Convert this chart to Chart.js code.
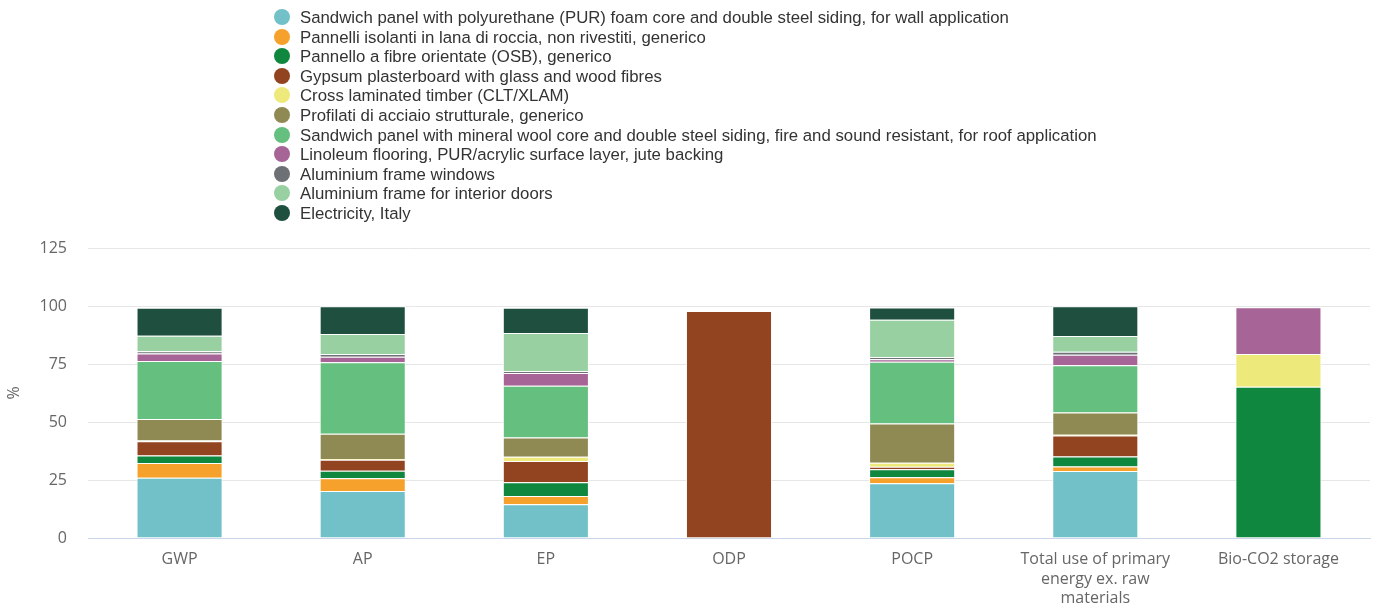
<!DOCTYPE html>
<html>
<head>
<meta charset="utf-8">
<script src="https://cdn.jsdelivr.net/npm/chart.js@4"></script>
<style>
  html, body { margin: 0; padding: 0; background: #fff; }
  #wrap { position: relative; width: 1376px; height: 609px; }
  #legend { position: absolute; left: 274px; top: 8px; font-family: "Liberation Sans", Arial, sans-serif; font-size: 16.8px; color: #333; }
  #legend div { height: 19.6px; line-height: 19.6px; white-space: nowrap; }
  #legend span.dot { display: inline-block; width: 16px; height: 16px; border-radius: 50%; vertical-align: -2px; margin-right: 10px; }
</style>
</head>
<body>
<div id="wrap">
  <canvas id="chart" width="1376" height="609"></canvas>
  <div id="legend"></div>
</div>
<script>
// categorie (asse x)
const categories = ["GWP", "AP", "EP", "ODP", "POCP", ["Total use of primary", "energy ex. raw", "materials"], "Bio-CO2 storage"];
const yTicks = [0, 25, 50, 75, 100, 125];

// serie (% per categoria)
const sandwichPUR   = [26, 20.3, 14.5, 0, 23.6, 28.9, 0];
const pannelliLana  = [6.3, 5.5, 3.6, 0, 2.6, 1.9, 0];
const pannelloOSB   = [3.3, 3.2, 5.9, 0, 3.4, 4.3, 65.2];
const gypsum        = [6.1, 4.7, 9.2, 97.8, 1.1, 9.1, 0];
const clt           = [0.3, 0.4, 1.8, 0, 1.7, 0.3, 14.1];
const profilati     = [9.3, 10.8, 8.3, 0, 17, 9.6, 0];
const sandwichWool  = [25, 30.9, 22.3, 0, 26.6, 20.4, 0];
const linoleum      = [3.2, 2.3, 5.5, 0, 1.1, 4.5, 20.2];
const aluWindows    = [1, 1.2, 0.8, 0, 0.9, 1.3, 0];
const aluDoors      = [6.7, 8.6, 16.5, 0, 16.1, 6.8, 0];
const electricity   = [12, 12, 10.8, 0, 5.2, 12.8, 0];

const series = [
  ["Sandwich panel with polyurethane (PUR) foam core and double steel siding, for wall application", sandwichPUR, "#72c1c8"],
  ["Pannelli isolanti in lana di roccia, non rivestiti, generico", pannelliLana, "#f6a12b"],
  ["Pannello a fibre orientate (OSB), generico", pannelloOSB, "#10873f"],
  ["Gypsum plasterboard with glass and wood fibres", gypsum, "#924320"],
  ["Cross laminated timber (CLT/XLAM)", clt, "#ede97a"],
  ["Profilati di acciaio strutturale, generico", profilati, "#8f8a53"],
  ["Sandwich panel with mineral wool core and double steel siding, fire and sound resistant, for roof application", sandwichWool, "#65bf7e"],
  ["Linoleum flooring, PUR/acrylic surface layer, jute backing", linoleum, "#a66497"],
  ["Aluminium frame windows", aluWindows, "#6d7075"],
  ["Aluminium frame for interior doors", aluDoors, "#98d0a2"],
  ["Electricity, Italy", electricity, "#1f4f3f"]
];

const chart = new Chart(document.getElementById("chart"), {
  type: 'bar',
  data: {
    labels: categories,
    datasets: series.map(s => ({
      label: s[0],
      data: s[1],
      backgroundColor: s[2],
      borderColor: "#ffffff",
      borderWidth: 1,
      categoryPercentage: 1,
      barPercentage: 0.47
    }))
  },
  options: {
    responsive: false,
    animation: false,
    layout: { padding: { top: 248, right: 6, left: 0, bottom: 0 } },
    plugins: {
      legend: { display: false },
      tooltip: { enabled: false }
    },
    scales: {
      x: {
        stacked: true,
        grid: { display: false, drawTicks: false },
        border: { color: "#ccd6eb" },
        ticks: { color: "#666", padding: 12, font: { family: "Open Sans", size: 16, lineHeight: 1.22 }, maxRotation: 0, autoSkip: false },
        afterFit: s => { s.height = 71; }
      },
      y: {
        stacked: true,
        min: 0,
        max: 125,
        afterBuildTicks: s => { s.ticks = yTicks.map(v => ({ value: v })); },
        grid: { color: "#e6e6e6", drawTicks: false },
        border: { display: false },
        ticks: { color: "#666", padding: 21, font: { family: "Open Sans", size: 16 } },
        title: { display: true, text: "%", color: "#666", font: { family: "Open Sans", size: 16 }, padding: { top: 5, bottom: 0 } },
        afterFit: s => { s.width = 88; }
      }
    }
  }
});

// legenda verticale
const leg = document.getElementById("legend");
chart.data.datasets.forEach(ds => {
  const row = document.createElement("div");
  row.innerHTML = '<span class="dot" style="background:' + ds.backgroundColor + '"></span>' + ds.label;
  leg.appendChild(row);
});
</script>
</body>
</html>
